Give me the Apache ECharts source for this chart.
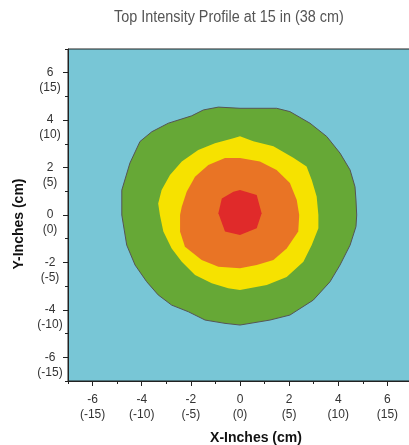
<!DOCTYPE html>
<html>
<head>
<meta charset="utf-8">
<script src="https://cdn.jsdelivr.net/npm/echarts@6/dist/echarts.min.js"></script>
<style>html,body{margin:0;padding:0;background:#fff;}#c{width:409px;height:445px;}</style>
</head>
<body>
<div id="c"></div>
<script>
// Tick values and labels (inches, with cm in parentheses)
const majorTicks = [-6, -4, -2, 0, 2, 4, 6];
const minorTicks = [-7, -5, -3, -1, 1, 3, 5, 7];
const cmLabels = ['-15', '-10', '-5', '0', '5', '10', '15'];

// Contour outlines [x inches, y inches]
const greenContour = [
  [-4.81, 1.05], [-4.48, 2.19], [-4.07, 3.10], [-3.59, 3.51], [-2.92, 3.87], [-1.97, 4.18],
  [-1.49, 4.43], [-0.88, 4.55], [0, 4.50], [1.49, 4.50], [2.03, 4.36], [2.85, 3.87],
  [3.53, 3.31], [4.07, 2.61], [4.48, 1.90], [4.68, 1.19], [4.72, 0.63], [4.75, 0],
  [4.72, -0.49], [4.48, -1.27], [4.07, -2.11], [3.66, -2.82], [2.98, -3.59], [2.03, -4.22],
  [1.22, -4.43], [0, -4.64], [-0.61, -4.57], [-1.42, -4.43], [-2.10, -4.08], [-2.78, -3.80],
  [-3.33, -3.37], [-3.80, -2.81], [-4.27, -2.11], [-4.61, -1.27], [-4.81, 0]
];
const yellowContour = [
  [0, 3.32], [0.54, 3.11], [1.36, 2.90], [2.17, 2.41], [2.71, 2.05], [2.92, 1.48],
  [3.12, 0.78], [3.19, 0], [3.19, -0.56], [2.92, -1.27], [2.58, -1.97], [1.90, -2.61],
  [1.09, -2.95], [0, -3.16], [-0.48, -3.09], [-1.15, -2.88], [-1.83, -2.53], [-2.37, -1.97],
  [-2.78, -1.41], [-3.12, -0.70], [-3.26, 0], [-3.33, 0.49], [-3.19, 1.05], [-2.85, 1.69],
  [-2.37, 2.26], [-1.70, 2.74], [-1.02, 3.03], [-0.27, 3.24]
];
const orangeContour = [
  [0, 2.40], [0.81, 2.26], [1.49, 1.90], [2.03, 1.35], [2.31, 0.63], [2.41, 0],
  [2.37, -0.70], [1.90, -1.41], [1.36, -1.90], [0.68, -2.11], [0, -2.25], [-0.88, -2.18],
  [-1.56, -1.90], [-2.24, -1.34], [-2.44, -0.70], [-2.44, 0], [-2.37, 0.35], [-2.17, 0.98],
  [-1.83, 1.61], [-1.29, 2.11], [-0.61, 2.40]
];
const redContour = [
  [0, 1.05], [0.68, 0.84], [0.88, 0.07], [0.68, -0.56], [0, -0.84], [-0.61, -0.70],
  [-0.88, 0.07], [-0.74, 0.70], [-0.27, 0.98]
];

function xLabel(v) {
  const i = majorTicks.indexOf(v);
  return i < 0 ? '' : v + '\n(' + cmLabels[i] + ')';
}
function yLabel(v) {
  const i = majorTicks.indexOf(v);
  return i < 0 ? '' : ' \n' + v + '\n(' + cmLabels[i] + ')';
}

function contourSeries(name, pts, fill, stroke) {
  return {
    type: 'custom', name: name, xAxisIndex: 0, yAxisIndex: 0, silent: true,
    data: [[0, 0]],
    renderItem: function (params, api) {
      return {
        type: 'polygon',
        shape: { points: pts.map(p => api.coord(p)) },
        style: { fill: fill, stroke: stroke || null, lineWidth: stroke ? 1 : 0 }
      };
    }
  };
}

const labelFont = { fontFamily: 'Liberation Sans, Arial, sans-serif', fontSize: 12, color: '#333', lineHeight: 15 };
const chart = echarts.init(document.getElementById('c'), null, { renderer: 'canvas' });
chart.setOption({
  animation: false,
  backgroundColor: '#fff',
  graphic: [{
    type: 'text', left: 114, top: 10, scaleX: 0.9, silent: true,
    style: {
      text: 'Top Intensity Profile at 15 in (38 cm)',
      font: 'normal 16px "Liberation Sans", Arial, sans-serif',
      fill: '#555'
    }
  }],
  grid: {
    left: 68, top: 49, width: 344, height: 332,
    outerBoundsMode: 'none', containLabel: false,
    show: true, backgroundColor: '#78C6D6', borderColor: '#222', borderWidth: 1
  },
  xAxis: [{
    type: 'value', min: -7, max: 7, interval: 1,
    axisLine: { show: true, onZero: false, lineStyle: { color: '#222', width: 1 } },
    axisTick: { show: true, customValues: majorTicks, length: 5, lineStyle: { color: '#222' } },
    axisLabel: Object.assign({ customValues: majorTicks, formatter: xLabel, margin: 11, align: 'center', verticalAlign: 'top' }, labelFont),
    splitLine: { show: false },
    name: 'X-Inches (cm)', nameLocation: 'middle', nameGap: 50,
    nameTextStyle: { fontFamily: 'Liberation Sans, Arial, sans-serif', fontSize: 14, fontWeight: 'bold', color: '#111', padding: [0, 0, 0, 32] }
  }, {
    type: 'value', min: -7, max: 7, interval: 1, position: 'bottom',
    axisLine: { show: false, onZero: false },
    axisTick: { show: true, customValues: minorTicks, length: 3, lineStyle: { color: '#222' } },
    axisLabel: { show: false }, splitLine: { show: false }
  }],
  yAxis: [{
    type: 'value', min: -7, max: 7, interval: 1,
    axisLine: { show: true, onZero: false, lineStyle: { color: '#222', width: 1 } },
    axisTick: { show: true, customValues: majorTicks, length: 5, lineStyle: { color: '#222' } },
    axisLabel: Object.assign({ customValues: majorTicks, formatter: yLabel, margin: 18, align: 'center', verticalAlign: 'middle' }, labelFont),
    splitLine: { show: false },
    name: 'Y-Inches (cm)', nameLocation: 'middle', nameGap: 42,
    nameTextStyle: { fontFamily: 'Liberation Sans, Arial, sans-serif', fontSize: 14, fontWeight: 'bold', color: '#111', padding: [0, 18, 0, 0] }
  }, {
    type: 'value', min: -7, max: 7, interval: 1, position: 'left',
    axisLine: { show: false, onZero: false },
    axisTick: { show: true, customValues: minorTicks, length: 3, lineStyle: { color: '#222' } },
    axisLabel: { show: false }, splitLine: { show: false }
  }],
  series: [
    contourSeries('green', greenContour, '#66A836', '#555'),
    contourSeries('yellow', yellowContour, '#F6E200'),
    contourSeries('orange', orangeContour, '#E97425'),
    contourSeries('red', redContour, '#E02A2A')
  ]
});
</script>
</body>
</html>
